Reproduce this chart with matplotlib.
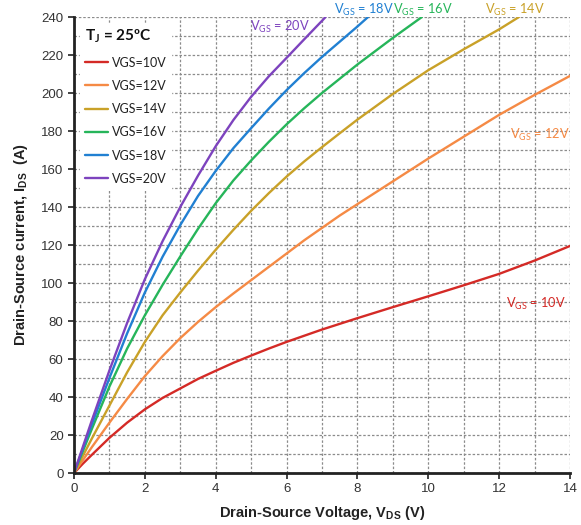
import matplotlib
matplotlib.use("Agg")
import matplotlib.pyplot as plt
from matplotlib.ticker import MultipleLocator

# ---- data ----
vds_10 = [0, 0.25, 0.5, 1, 1.5, 2, 2.5, 3, 3.5, 4, 4.5, 5, 5.5, 6, 7, 8, 9, 10, 11, 12, 13, 14]
ids_10 = [0, 4.9, 9.5, 18.5, 26.5, 33.5, 39.5, 44.5, 49.5, 53.8, 58, 61.8, 65.5, 69,
          75.5, 81.5, 87.3, 93, 98.8, 104.8, 111.8, 119.5]

vds_12 = [0, 0.5, 1, 1.5, 2, 2.5, 3, 3.5, 4, 4.5, 5, 5.5, 6, 6.5, 7, 7.5, 8, 9, 10, 11, 12, 13, 14]
ids_12 = [0, 13.5, 26.5, 39, 51, 61.5, 71, 79.5, 87.3, 94.5, 101.5, 108.5, 115.5, 122.5,
          129, 135.5, 141.5, 153.5, 165.5, 177, 188.5, 199, 209]

vds_14 = [0, 0.5, 1, 1.5, 2, 2.5, 3, 3.5, 4, 4.5, 5, 5.5, 6, 6.5, 7, 7.5, 8, 9, 10, 11, 12, 12.56]
ids_14 = [0, 18, 35.5, 53, 69, 83, 95, 106.5, 117.5, 128, 138, 147.3, 156, 164,
          171.5, 178.8, 186, 199.5, 212, 223, 233.5, 240]

vds_16 = [0, 0.5, 1, 1.5, 2, 2.5, 3, 3.5, 4, 4.5, 5, 5.5, 6, 6.5, 7, 7.5, 8, 8.5, 9, 9.82]
ids_16 = [0, 23, 45.5, 65.5, 83, 99, 114, 128.5, 142, 154, 164.5, 174.3, 183.5, 192,
          200, 207.5, 215, 222, 229, 240]

vds_18 = [0, 0.5, 1, 1.5, 2, 2.5, 3, 3.5, 4, 4.5, 5, 5.5, 6, 6.5, 7, 7.5, 8, 8.3]
ids_18 = [0, 25.5, 50, 73.5, 95, 113.8, 130.5, 145.8, 159, 171, 181.5, 191.8, 201.5, 210.5,
          219, 227, 235, 240]

vds_20 = [0, 0.5, 1, 1.5, 2, 2.5, 3, 3.5, 4, 4.5, 5, 5.5, 6, 6.5, 7, 7.1]
ids_20 = [0, 27.5, 54, 79, 102, 122, 140, 156.5, 172, 185.8, 198, 208.8, 218.5, 228.3, 238, 240]

legend_labels = ["VGS=10V", "VGS=12V", "VGS=14V", "VGS=16V", "VGS=18V", "VGS=20V"]
colors = ["#D42A26", "#F58A45", "#C9A128", "#26B55A", "#2180D2", "#7D43BE"]

series = [(vds_10, ids_10), (vds_12, ids_12), (vds_14, ids_14),
          (vds_16, ids_16), (vds_18, ids_18), (vds_20, ids_20)]

fig = plt.figure(figsize=(5.81, 5.25), dpi=100)
ax = fig.add_axes([74/581, 1-473/525, (570-74)/581, (473-17)/525])

for (x, y), c, lab in zip(series, colors, legend_labels):
    ax.plot(x, y, color=c, lw=1.7, label=lab, solid_capstyle="round",
            solid_joinstyle="round", zorder=3)

ax.set_xlim(0, 14)
ax.set_ylim(0, 240)
ax.xaxis.set_major_locator(MultipleLocator(2))
ax.xaxis.set_minor_locator(MultipleLocator(1))
ax.yaxis.set_major_locator(MultipleLocator(20))
ax.yaxis.set_minor_locator(MultipleLocator(10))
ax.grid(which="both", color="#8c8c8c", linestyle=(0, (2, 1.5)), linewidth=0.9, zorder=1)
ax.set_axisbelow(True)

for s in ["top", "right"]:
    ax.spines[s].set_visible(False)
for s in ["left", "bottom"]:
    ax.spines[s].set_linewidth(2)
    ax.spines[s].set_color("#222222")
    ax.spines[s].set_zorder(4)

ax.tick_params(which="major", direction="out", length=4, width=1.2, colors="#222222",
               labelsize=9.5, labelcolor="#333333")
ax.tick_params(which="minor", length=0)
for lbl in ax.get_xticklabels() + ax.get_yticklabels():
    lbl.set_family("Liberation Sans")

ax.set_xlabel("Drain-Source Voltage, V$_{\\mathregular{DS}}$ (V)", fontsize=10.5,
              fontweight="bold", family="Liberation Sans", color="#222222", labelpad=6)
ax.set_ylabel("Drain-Source current, I$_{\\mathregular{DS}}$  (A)", fontsize=10.5,
              fontweight="bold", family="Liberation Sans", color="#222222", labelpad=8)

leg = ax.legend(loc="upper left", bbox_to_anchor=(0.0, 1.0), frameon=True,
                fancybox=False, edgecolor="white", facecolor="white", framealpha=1,
                prop={"family": "Lato", "size": 9}, handlelength=1.9,
                handletextpad=0.3, labelspacing=0.9, borderpad=0.35,
                title="T$_{\\mathregular{J}}$ = 25ºC",
                title_fontproperties={"family": "Lato", "size": 11, "weight": "bold"})
leg.get_title().set_color("#111111")
leg._legend_box.align = "left"
leg.set_zorder(5)
for t in leg.get_texts():
    t.set_color("#222222")

def gs(v):
    return "V$_{\\mathregular{GS}}$ = " + v

ann_font = {"family": "Lato", "size": 9.2}
ax.text(5.82, 235, gs("20V"), color=colors[5], ha="center", va="center", **ann_font)
ax.text(8.17, 243.5, gs("18V"), color=colors[4], ha="center", va="center", clip_on=False, **ann_font)
ax.text(9.85, 243.5, gs("16V"), color=colors[3], ha="center", va="center", clip_on=False, **ann_font)
ax.text(12.44, 243.5, gs("14V"), color=colors[2], ha="center", va="center", clip_on=False, **ann_font)
ax.text(13.15, 178, gs("12V"), color=colors[1], ha="center", va="center", **ann_font)
ax.text(13.05, 89, gs("10V"), color=colors[0], ha="center", va="center", **ann_font)

fig.savefig("out.png", dpi=100)
